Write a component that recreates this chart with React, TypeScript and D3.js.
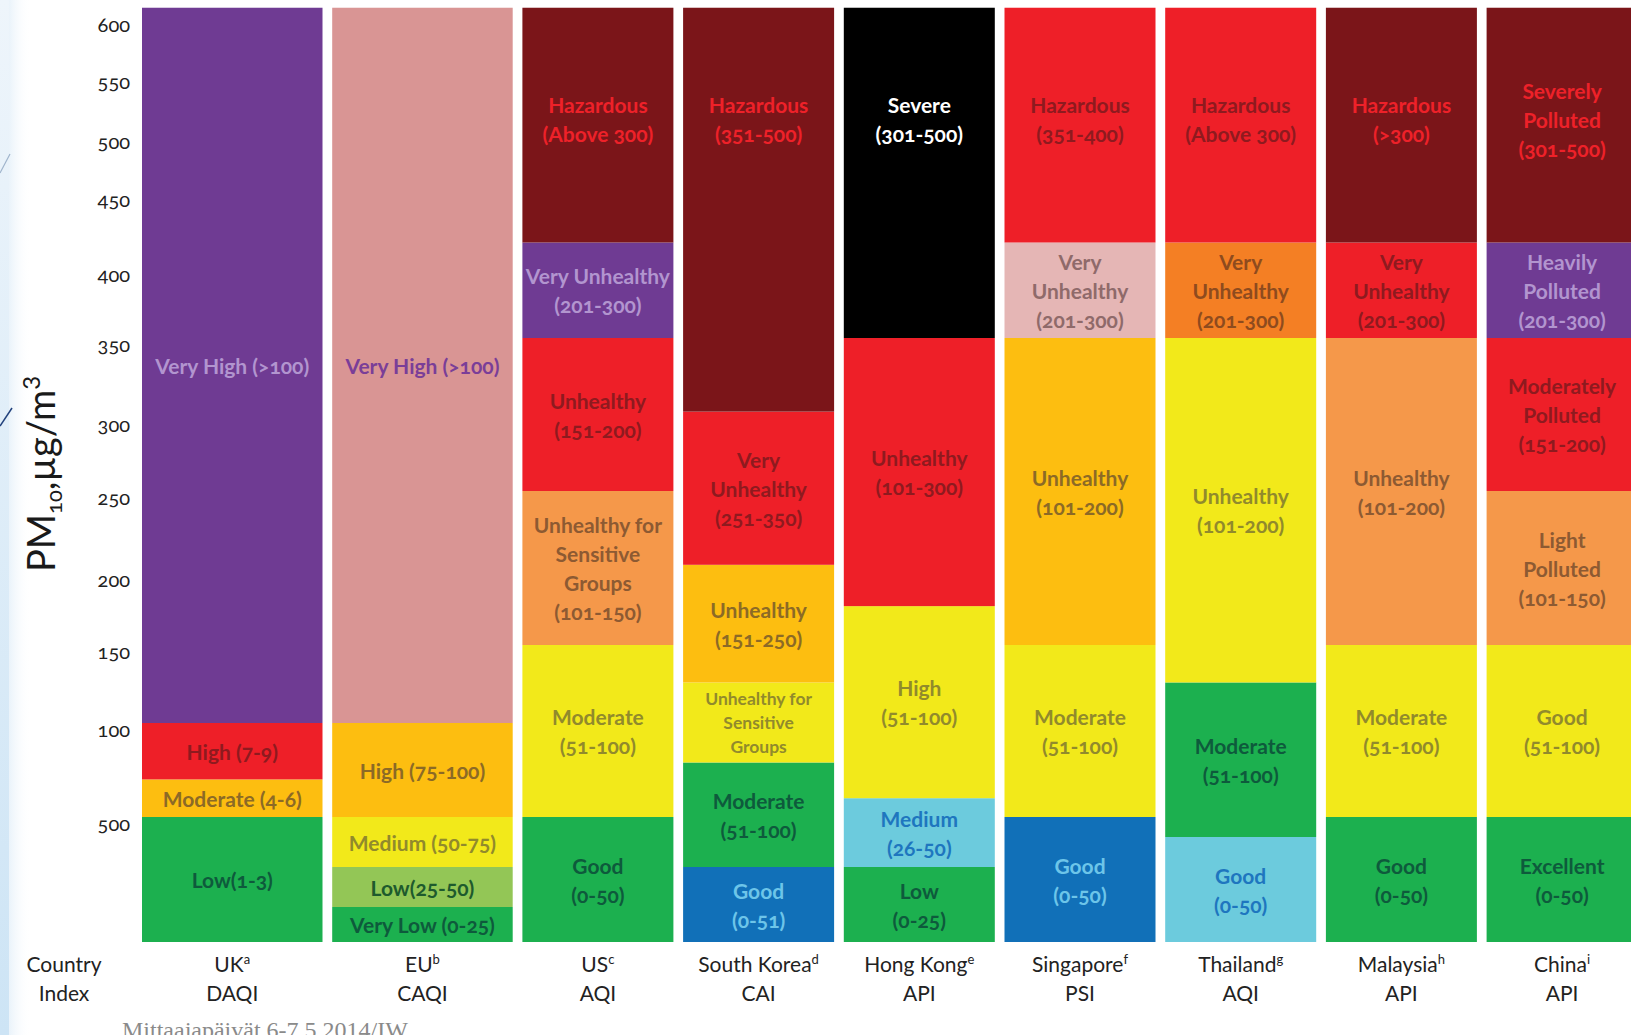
import { useEffect, useRef } from 'react';
import * as d3 from 'd3';

// Countries along the bottom, their footnote letters and the index each one uses
const countries = ['UK', 'EU', 'US', 'South Korea', 'Hong Kong', 'Singapore', 'Thailand', 'Malaysia', 'China'];
const footnotes = ['a', 'b', 'c', 'd', 'e', 'f', 'g', 'h', 'i'];
const indexNames = ['DAQI', 'CAQI', 'AQI', 'CAI', 'API', 'PSI', 'AQI', 'API', 'API'];

// PM10 ticks on the left axis and the text printed at each (the lowest one reads "500" in the original)
const tickValues = [600, 550, 500, 450, 400, 350, 300, 250, 200, 150, 100, 50];
const tickLabels = ['600', '550', '500', '450', '400', '350', '300', '250', '200', '150', '100', '500'];

// Upper edge of every band in PM10 (µg/m3), bottom band first
const ukBreaks = [50, 70, 100, 609];
const euBreaks = [14, 30, 50, 100, 609];
const usBreaks = [50, 150, 250, 350, 417, 609];
const krBreaks = [30, 79, 126, 205, 304, 609];
const hkBreaks = [30, 60, 177, 350, 609];
const sgBreaks = [50, 150, 350, 417, 609];
const thBreaks = [42, 126, 350, 417, 609];
const myBreaks = [50, 150, 350, 417, 609];
const cnBreaks = [50, 150, 250, 350, 417, 609];

// Band names, bottom band first ("\n" splits the lines)
const ukBands = ['Low(1-3)', 'Moderate (4-6)', 'High (7-9)', 'Very High (>100)'];
const euBands = ['Very Low (0-25)', 'Low(25-50)', 'Medium (50-75)', 'High (75-100)', 'Very High (>100)'];
const usBands = ['Good\n(0-50)', 'Moderate\n(51-100)', 'Unhealthy for\nSensitive\nGroups\n(101-150)', 'Unhealthy\n(151-200)', 'Very Unhealthy\n(201-300)', 'Hazardous\n(Above 300)'];
const krBands = ['Good\n(0-51)', 'Moderate\n(51-100)', 'Unhealthy for\nSensitive\nGroups', 'Unhealthy\n(151-250)', 'Very\nUnhealthy\n(251-350)', 'Hazardous\n(351-500)'];
const hkBands = ['Low\n(0-25)', 'Medium\n(26-50)', 'High\n(51-100)', 'Unhealthy\n(101-300)', 'Severe\n(301-500)'];
const sgBands = ['Good\n(0-50)', 'Moderate\n(51-100)', 'Unhealthy\n(101-200)', 'Very\nUnhealthy\n(201-300)', 'Hazardous\n(351-400)'];
const thBands = ['Good\n(0-50)', 'Moderate\n(51-100)', 'Unhealthy\n(101-200)', 'Very\nUnhealthy\n(201-300)', 'Hazardous\n(Above 300)'];
const myBands = ['Good\n(0-50)', 'Moderate\n(51-100)', 'Unhealthy\n(101-200)', 'Very\nUnhealthy\n(201-300)', 'Hazardous\n(>300)'];
const cnBands = ['Excellent\n(0-50)', 'Good\n(51-100)', 'Light\nPolluted\n(101-150)', 'Moderately\nPolluted\n(151-200)', 'Heavily\nPolluted\n(201-300)', 'Severely\nPolluted\n(301-500)'];

const allBreaks = [ukBreaks, euBreaks, usBreaks, krBreaks, hkBreaks, sgBreaks, thBreaks, myBreaks, cnBreaks];
const allBands = [ukBands, euBands, usBands, krBands, hkBands, sgBands, thBands, myBands, cnBands];

// fill / label colour for each swatch
const palette: Record<string, [string, string]> = {
  green: ['#1cb04f', '#0e5a3c'],
  lime: ['#93c656', '#1e5a2d'],
  yellow: ['#f2e91a', '#918a2c'],
  amber: ['#fdbe10', '#8c6a26'],
  orange: ['#f5984a', '#8d5a32'],
  tangerine: ['#f47f24', '#8e4b1e'],
  red: ['#ee1f28', '#8e1a1f'],
  maroon: ['#7b1519', '#ee2129'],
  purple: ['#6f3b93', '#b295cf'],
  rose: ['#d99594', '#7a3e98'],
  blush: ['#e5b6b5', '#8f6a6a'],
  blue: ['#1170b8', '#6dc5e9'],
  sky: ['#6ccbdd', '#1e76bf'],
  black: ['#000000', '#ffffff'],
};

const bandColours = [
  ['green', 'amber', 'red', 'purple'],
  ['green', 'lime', 'yellow', 'amber', 'rose'],
  ['green', 'yellow', 'orange', 'red', 'purple', 'maroon'],
  ['blue', 'green', 'yellow', 'amber', 'red', 'maroon'],
  ['green', 'sky', 'yellow', 'red', 'black'],
  ['blue', 'yellow', 'amber', 'blush', 'red'],
  ['sky', 'green', 'yellow', 'tangerine', 'red'],
  ['green', 'yellow', 'orange', 'red', 'maroon'],
  ['green', 'yellow', 'orange', 'red', 'purple', 'maroon'],
];

const Chart = () => {
  const svgRef = useRef<SVGSVGElement | null>(null);

  useEffect(() => {
    const width = 1631;
    const height = 1035;
    const font = 'Lato, "Open Sans", sans-serif';

    // the printed axis is uneven, so the scale is piecewise between the ticks
    const y = d3.scaleLinear()
      .domain([0, 50, 100, 150, 200, 250, 300, 350, 400, 450, 500, 550, 600])
      .range([942, 817, 723, 645, 573, 491, 418, 338, 268, 193, 135, 75, 18]);

    // column positions: the UK and EU columns are wider than the rest
    const left = 142;
    const gap = 9.7;
    const colW = countries.map((_, i) => (i < 2 ? 180.5 : 151));
    const colX = colW.map((w, i) => left + d3.sum(colW.slice(0, i)) + gap * i);

    const svg = d3.select(svgRef.current)
      .attr('width', width)
      .attr('height', height)
      .attr('viewBox', [0, 0, width, height])
      .style('font-family', font)
      .style('background', '#fff');

    svg.selectAll('*').remove();

    // slide background at the left edge
    const defs = svg.append('defs');
    const g1 = defs.append('linearGradient').attr('id', 'edge').attr('x1', 0).attr('x2', 0).attr('y1', 0).attr('y2', 1);
    g1.append('stop').attr('offset', '0%').attr('stop-color', '#eef5fb');
    g1.append('stop').attr('offset', '100%').attr('stop-color', '#cde4f5');
    const g2 = defs.append('linearGradient').attr('id', 'fade').attr('x1', 0).attr('x2', 1).attr('y1', 0).attr('y2', 0);
    g2.append('stop').attr('offset', '0%').attr('stop-color', '#dcebf7').attr('stop-opacity', 0.6);
    g2.append('stop').attr('offset', '100%').attr('stop-color', '#ffffff').attr('stop-opacity', 0);
    svg.append('rect').attr('x', 0).attr('y', 0).attr('width', width).attr('height', height).attr('fill', '#fff');
    svg.append('rect').attr('x', 9).attr('y', 0).attr('width', 22).attr('height', height).attr('fill', 'url(#fade)');
    svg.append('rect').attr('x', 0).attr('y', 0).attr('width', 9).attr('height', height).attr('fill', 'url(#edge)');
    svg.append('line').attr('x1', 0).attr('y1', 173).attr('x2', 10).attr('y2', 154).attr('stroke', '#9fb4cc').attr('stroke-width', 1.2);
    svg.append('line').attr('x1', 0).attr('y1', 426).attr('x2', 12).attr('y2', 408).attr('stroke', '#21417c').attr('stroke-width', 1.5);

    // stacked bands
    const cols = svg.append('g');
    allBreaks.forEach((breaks, ci) => {
      const col = cols.append('g');
      const x0 = colX[ci];
      const w = colW[ci];
      breaks.forEach((hi, bi) => {
        const lo = bi === 0 ? 0 : breaks[bi - 1];
        const [fill, ink] = palette[bandColours[ci][bi]];
        col.append('rect')
          .attr('x', x0)
          .attr('y', y(hi))
          .attr('width', w)
          .attr('height', y(lo) - y(hi))
          .attr('fill', fill);

        // the top "hazardous" bands keep their label up high
        const top = bi === breaks.length - 1 && lo >= 300;
        const cy = top ? (y(hi) + Math.min(y(lo), y(425))) / 2 : (y(hi) + y(lo)) / 2;
        const lines = allBands[ci][bi].split('\n');
        const small = lines.length >= 3 && y(lo) - y(hi) < 90;
        const fs = small ? 17.5 : 21;
        const lh = small ? 24 : 29;
        lines.forEach((line, k) => {
          col.append('text')
            .attr('x', x0 + w / 2)
            .attr('y', cy + (k - (lines.length - 1) / 2) * lh)
            .attr('text-anchor', 'middle')
            .attr('dominant-baseline', 'central')
            .attr('fill', ink)
            .style('font-size', `${fs}px`)
            .style('font-weight', 700)
            .style('font-variant-numeric', 'oldstyle-nums')
            .text(line);
        });
      });
    });

    // left axis: labels only
    svg.append('g')
      .attr('transform', 'translate(130,7)')
      .call(d3.axisLeft(y).tickValues(tickValues).tickSize(0).tickPadding(0)
        .tickFormat((_, i) => tickLabels[i]))
      .call(g => g.select('.domain').remove())
      .selectAll('text')
      .attr('fill', '#222')
      .style('font-family', font)
      .style('font-size', '20px')
      .style('font-variant-numeric', 'oldstyle-nums');

    // y title
    const title = svg.append('text')
      .attr('transform', 'translate(55,474) rotate(-90)')
      .attr('text-anchor', 'middle')
      .attr('fill', '#1a1a1a')
      .style('font-size', '38px');
    title.append('tspan').text('PM');
    title.append('tspan').attr('dy', 7).style('font-size', '22px').style('font-variant-numeric', 'oldstyle-nums').text('10');
    title.append('tspan').attr('dy', -7).text(',µg/m');
    title.append('tspan').attr('dy', -15).style('font-size', '24px').text('3');

    // country / index captions
    const captions = svg.append('g').attr('fill', '#222').style('font-size', '21px');
    captions.append('text').attr('x', 64).attr('y', 972).attr('text-anchor', 'middle').text('Country');
    captions.append('text').attr('x', 64).attr('y', 1001).attr('text-anchor', 'middle').text('Index');
    countries.forEach((c, i) => {
      const cx = colX[i] + colW[i] / 2;
      const t = captions.append('text').attr('x', cx).attr('y', 972).attr('text-anchor', 'middle');
      t.append('tspan').text(c);
      t.append('tspan').attr('dy', -8).style('font-size', '13px').text(footnotes[i]);
      captions.append('text').attr('x', cx).attr('y', 1001).attr('text-anchor', 'middle').text(indexNames[i]);
    });

    // slide footer, cut off by the bottom edge as on the slide
    svg.append('text')
      .attr('x', 122)
      .attr('y', 1038)
      .attr('fill', '#8a8a8a')
      .style('font-family', '"Liberation Serif", "DejaVu Serif", serif')
      .style('font-size', '24px')
      .text('Mittaajapäivät 6-7.5.2014/IW');
  }, []);

  return (
    <div style={{ position: 'absolute', left: 0, top: 0 }}>
      <svg ref={svgRef} style={{ display: 'block' }}></svg>
    </div>
  );
};

export default function App() {
  return <Chart />;
}
